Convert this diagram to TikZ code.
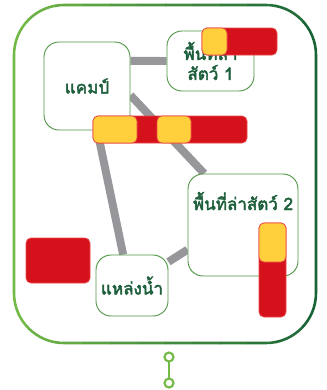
\documentclass[tikz,border=0pt]{standalone}
\usepackage{fontspec}
\newfontfamily\thaifont[Script=Thai, FakeBold=2.6]{Loma}
\usepackage{tikz}
\usetikzlibrary{backgrounds}
\definecolor{roadgray}{RGB}{150,150,155}
\definecolor{textgreen}{RGB}{30,95,60}
\definecolor{boxgreen}{RGB}{80,150,70}
\definecolor{lightgreen}{RGB}{115,185,70}
\definecolor{darkgreen}{RGB}{25,100,55}
\definecolor{barred}{RGB}{213,18,27}
\definecolor{baredge}{RGB}{235,70,70}
\definecolor{baryellow}{RGB}{255,208,60}

\tikzset{
  place/.style={draw=boxgreen, line width=0.8pt, fill=white, rounded corners=0.45cm,
    align=center, text=textgreen, font=\thaifont\fontsize{14.5}{17}\selectfont},
  road/.style={roadgray, line width=6.8pt},
  redbar/.style={fill=barred, draw=baredge, line width=0.6pt, rounded corners=0.15cm},
  yellowbit/.style={fill=baryellow, draw=baredge, line width=0.6pt, rounded corners=0.15cm}
}

\begin{document}
\begin{tikzpicture}[x=0.03cm, y=-0.03cm]
    \useasboundingbox (0,0) rectangle (326,390);

    % กรอบนอก (ไล่สีจากซ้ายไปขวา)
    \foreach \i in {0,...,11} {
        \pgfmathsetmacro{\mix}{100-\i*100/11}
        \begin{scope}
            \clip (\i*27.5,0) rectangle (\i*27.5+28,390);
            \draw[line width=2.2pt, lightgreen!\mix!darkgreen, rounded corners=1.5cm] (14,5) rectangle (316,343);
        \end{scope}
    }

    % จุดเชื่อมด้านล่าง
    \draw[lightgreen, line width=1.8pt] (169,357) -- (169,383);
    \draw[lightgreen, line width=1.8pt, fill=white] (169,357) circle (4.5);
    \draw[lightgreen, line width=1.8pt, fill=white] (169,383) circle (4.5);

    % สถานที่
    \node[place, minimum width=2.58cm, minimum height=2.64cm] (camp) at (87,86) {แคมป์};
    \node[place, minimum width=2.61cm, minimum height=1.8cm, inner sep=1pt] (hunt1) at (210.5,61) {พื้นที่ล่า\\สัตว์ 1};
    \node[place, minimum width=3.3cm, minimum height=3.06cm, text height=0.4cm, text depth=1.3cm] (hunt2) at (243,225) {พื้นที่ล่าสัตว์ 2};
    \node[place, minimum width=2.16cm, minimum height=1.83cm] (water) at (132,285.5) {แหล่งน้ำ};

    % เส้นทาง (อยู่ใต้กล่อง)
    \begin{scope}[on background layer]
        \draw[road] (camp.30) -- (hunt1.west);
        \draw[road] (camp.-12) -- (hunt2.127);
        \draw[road] (camp.-77) -- (water.106);
        \draw[road] (water.33) -- (hunt2.204);
    \end{scope}

    % แถบสีแดง-เหลือง
    \draw[redbar] (202,28) rectangle (277,55);
    \draw[yellowbit] (202,28) rectangle (227,55);

    \draw[redbar] (93,116) rectangle (247,143);
    \draw[yellowbit] (93,116) rectangle (137,143);
    \draw[yellowbit] (157,116) rectangle (191,143);

    \draw[redbar] (26,238) rectangle (90,283);

    \draw[redbar] (259,223) rectangle (286,317);
    \draw[yellowbit] (259,223) rectangle (286,262);
\end{tikzpicture}
\end{document}
